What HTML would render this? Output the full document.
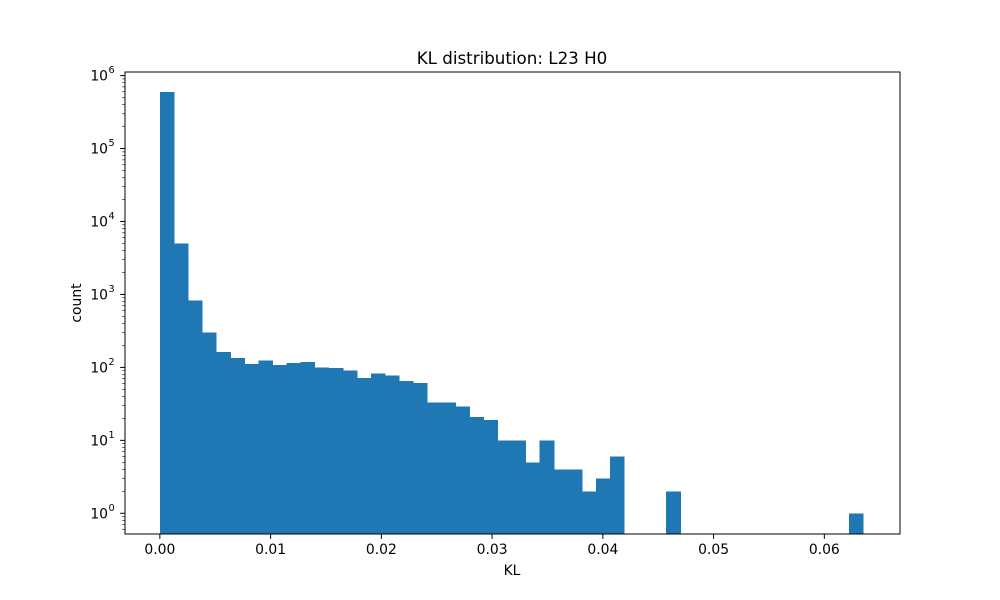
<!DOCTYPE html>
<html><head><meta charset="utf-8"><style>
body{margin:0;background:#fff;}
svg text{font-family:"DejaVu Sans","Liberation Sans",sans-serif;fill:#000;}
</style></head><body>
<svg id="chart" width="1000" height="600" xmlns="http://www.w3.org/2000/svg" style="position:absolute;left:0;top:0">
<rect width="1000" height="600" fill="#fff"/>
<g id="bars" shape-rendering="crispEdges"></g>
<g id="axes"></g>
<text x="512" y="64" font-size="16.7" text-anchor="middle">KL distribution: L23 H0</text>
<text x="512" y="575" font-size="13.9" text-anchor="middle">KL</text>
<text x="81" y="303" font-size="13.9" text-anchor="middle" transform="rotate(-90 81 303)">count</text>
</svg>
<script>
const binStart = 0.0;
const binWidth = 0.00127;
const counts = [600000,5000,830,300,163,135,112,125,108,115,118,100,98,90,72,83,78,65,61,33,33,29,21,19,10,10,5,10,4,4,2,3,6,0,0,0,2,0,0,0,0,0,0,0,0,0,0,0,0,1];
const xTicks = [0.00,0.01,0.02,0.03,0.04,0.05,0.06];
const xTickLabels = ["0.00","0.01","0.02","0.03","0.04","0.05","0.06"];
const yDecades = [0,1,2,3,4,5,6];

const L=125,R=900,T=72,B=534;
const xMin=-0.003147, xMax=0.066833;
const yMinLog=(513.3-534)/72.95, yMaxLog=(513.3-72)/72.95;
function xs(v){return L+(v-xMin)/(xMax-xMin)*(R-L);}
function ys(v){return B-(Math.log10(v)-yMinLog)/(yMaxLog-yMinLog)*(B-T);}
const NS="http://www.w3.org/2000/svg";
function mk(tag,attrs,parent){const e=document.createElementNS(NS,tag);for(const k in attrs)e.setAttribute(k,attrs[k]);parent.appendChild(e);return e;}
const bars=document.getElementById('bars'), axes=document.getElementById('axes');
counts.forEach((c,i)=>{
  if(c<=0)return;
  const x0=xs(binStart+i*binWidth), x1=xs(binStart+(i+1)*binWidth), y=ys(c);
  const r=mk('rect',{x:x0,y:y,width:x1-x0+0.6,height:B-y,fill:'#1f77b4'},bars);
  
  
});
const frame=mk('rect',{x:L,y:T,width:R-L,height:B-T,fill:'none',stroke:'#000','stroke-width':1},axes);


xTicks.forEach((v,i)=>{
  const x=xs(v);
  mk('line',{x1:x,x2:x,y1:B,y2:B+4.9,stroke:'#000'},axes);
  const t=mk('text',{x:x,y:B+20,'font-size':13.9,'text-anchor':'middle'},axes);
  t.textContent=xTickLabels[i];
  
  
});
yDecades.forEach(d=>{
  const y=ys(Math.pow(10,d));
  mk('line',{x1:L,x2:L-4.9,y1:y,y2:y,stroke:'#000'},axes);
  const t=mk('text',{x:L-17,y:y+5,'font-size':13.9,'text-anchor':'end'},axes);
  t.textContent='10';
  
  
  const s=mk('text',{x:L-16.5,y:y-2.5,'font-size':9.7,'text-anchor':'start'},axes);
  s.textContent=String(d);
  for(let m=2;m<10;m++){
    const v=Math.pow(10,d-1)*m; const ym=ys(v);
    if(ym<=B && ym>=T) mk('line',{x1:L,x2:L-2.8,y1:ym,y2:ym,stroke:'#000','stroke-width':0.6},axes);
    const v2=Math.pow(10,d)*m; const ym2=ys(v2);
    if(d===6 && ym2>=T) mk('line',{x1:L,x2:L-2.8,y1:ym2,y2:ym2,stroke:'#000','stroke-width':0.6},axes);
  }
});
</script>
</body></html>
